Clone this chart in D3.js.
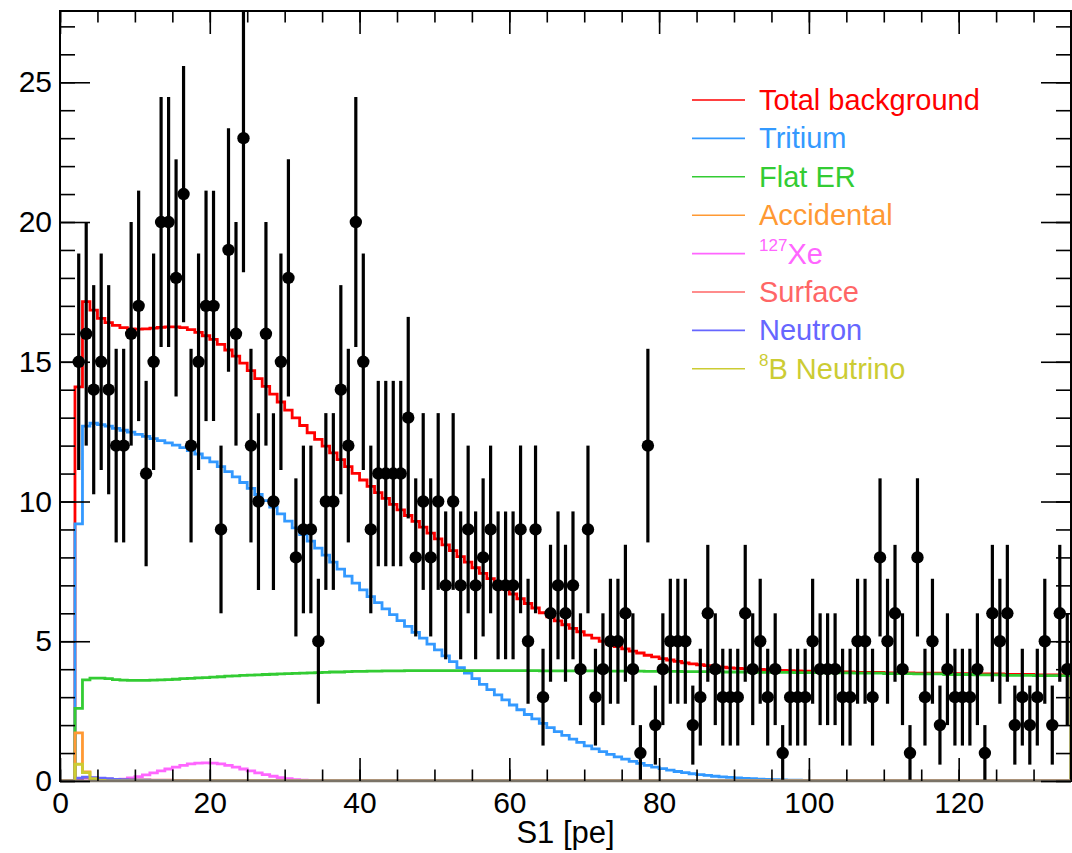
<!DOCTYPE html>
<html>
<head>
<meta charset="utf-8">
<script src="https://cdnjs.cloudflare.com/ajax/libs/d3/7.8.5/d3.min.js"></script>
<style>
  body { margin: 0; background: #fff; }
  svg { display: block; font-family: "Liberation Sans", Arial, Helvetica, sans-serif; }
</style>
</head>
<body>
<div class="chart"></div>
<script>
// data: counts per 1 pe bin, first point is the bin [2,3]
const dataFirstBin = 2;
const dataCounts = [
  15,16,14,15,14,12,12,16,17,11,
  15,20,20,18,21,12,15,17,17,9,
  19,16,23,12,10,16,10,15,18,8,
  9,9,5,10,10,14,12,20,15,9,
  11,11,11,11,13,8,10,8,10,7,
  10,7,9,7,8,9,7,7,7,9,
  5,9,3,6,7,6,7,4,9,3,
  4,5,5,6,4,1,12,2,4,5,
  5,5,2,3,6,4,3,3,3,6,
  4,5,3,4,1,3,3,3,5,4,
  4,4,3,3,5,5,3,8,5,6,
  4,1,8,3,5,2,4,3,3,3,
  4,1,6,5,6,2,3,2,3,5,
  2,6,4
];

// model histograms, 1 pe bins starting at S1 = 0
const totalBkg = [
  0,0,14.1,17.15,16.85,16.55,16.4,16.3,16.22,16.18,
  16.17,16.18,16.2,16.23,16.25,16.25,16.22,16.15,16.05,15.93,
  15.8,15.62,15.42,15.2,14.95,14.68,14.4,14.12,13.84,13.56,
  13.27,12.99,12.72,12.46,12.22,11.98,11.74,11.5,11.25,11.01,
  10.77,10.54,10.32,10.11,9.9,9.7,9.5,9.29,9.08,8.87,
  8.66,8.45,8.24,8.03,7.83,7.63,7.43,7.24,7.05,6.87,
  6.69,6.52,6.35,6.19,6.02,5.87,5.73,5.59,5.46,5.34,
  5.22,5.11,5.0,4.9,4.81,4.73,4.65,4.58,4.5,4.44,
  4.38,4.33,4.28,4.23,4.19,4.16,4.13,4.1,4.07,4.05,
  4.03,4.02,4.01,3.99,3.98,3.97,3.96,3.95,3.94,3.93,
  3.93,3.92,3.91,3.91,3.9,3.9,3.89,3.89,3.89,3.89,
  3.87,3.87,3.87,3.87,3.86,3.86,3.86,3.86,3.84,3.84,
  3.84,3.84,3.83,3.83,3.83,3.83,3.81,3.81,3.81,3.81,
  3.8,3.8,3.8,3.8,3.8
];
const tritium = [
  0,0,9.2,12.7,12.8,12.75,12.7,12.62,12.55,12.48,
  12.4,12.33,12.25,12.18,12.1,12.02,11.93,11.82,11.7,11.56,
  11.42,11.25,11.07,10.88,10.68,10.47,10.25,10.03,9.8,9.56,
  9.3,9.06,8.82,8.58,8.33,8.08,7.83,7.58,7.33,7.08,
  6.84,6.6,6.38,6.16,5.95,5.74,5.53,5.32,5.11,4.9,
  4.69,4.48,4.27,4.06,3.86,3.66,3.46,3.27,3.08,2.9,
  2.72,2.55,2.38,2.22,2.06,1.91,1.77,1.63,1.5,1.38,
  1.26,1.15,1.05,0.95,0.86,0.78,0.7,0.63,0.56,0.5,
  0.44,0.39,0.34,0.3,0.26,0.23,0.2,0.17,0.15,0.13,
  0.11,0.09,0.08,0.07,0.06,0.05,0.04,0.03,0.03,0.02,
  0.02,0.01,0.01,0.01
];
const flatER = [
  0,0,2.6,3.62,3.68,3.68,3.66,3.63,3.61,3.6,
  3.6,3.6,3.61,3.62,3.63,3.64,3.66,3.67,3.69,3.7,
  3.72,3.73,3.75,3.76,3.78,3.79,3.8,3.81,3.82,3.83,
  3.84,3.85,3.86,3.87,3.88,3.89,3.9,3.9,3.91,3.92,
  3.92,3.93,3.93,3.94,3.94,3.94,3.95,3.95,3.95,3.95,
  3.95,3.95,3.95,3.95,3.95,3.95,3.95,3.95,3.95,3.95,
  3.95,3.95,3.95,3.95,3.94,3.94,3.94,3.94,3.94,3.94,
  3.94,3.94,3.93,3.93,3.93,3.93,3.93,3.93,3.92,3.92,
  3.92,3.92,3.92,3.91,3.91,3.91,3.91,3.91,3.9,3.9,
  3.9,3.9,3.9,3.89,3.89,3.89,3.89,3.89,3.88,3.88,
  3.88,3.88,3.87,3.87,3.87,3.87,3.86,3.86,3.86,3.86,
  3.84,3.84,3.84,3.84,3.83,3.83,3.83,3.83,3.81,3.81,
  3.81,3.81,3.8,3.8,3.8,3.8,3.78,3.78,3.78,3.78,
  3.77,3.77,3.77,3.77,3.77
];
// small components: first bin, then values
const accidentalStart = 2;
const accidental = [1.72, 0.33, 0.03];
const xe127Start = 4;
const xe127 = [0.005,0.01,0.02,0.04,0.07,0.11,0.16,0.22,0.29,0.36,0.43,0.5,0.56,0.61,0.64,
  0.65,0.64,0.61,0.56,0.5,0.43,0.36,0.29,0.23,0.17,0.12,0.08,0.05,0.03,0.02,0.01];
const surfaceStart = 2;
const surface = [0.08,0.12,0.1,0.08,0.07,0.06,0.05,0.05,0.04,0.04,0.03,0.03,0.03,0.02,0.02];
const neutronStart = 2;
const neutron = [0.1,0.14,0.12,0.1,0.08,0.06,0.05,0.04,0.03,0.03,0.02,0.02,0.01];
const b8Start = 2;
const b8 = [0.6, 0.3, 0.08, 0.02];

const seriesNames = ["Total background", "Tritium", "Flat ER", "Accidental", "127Xe", "Surface", "Neutron", "8B Neutrino"];
const xMajorTicks = [0, 20, 40, 60, 80, 100, 120];
const yMajorTicks = [0, 5, 10, 15, 20, 25];

const nBins = 135;
const width = 1072, height = 853;
const plotL = 60, plotR = 1071, plotT = 11, plotB = 781;

const color = d3.scaleOrdinal()
    .domain(seriesNames)
    .range(["#ff0000", "#3399ff", "#33cc33", "#ff9933", "#ff66ff", "#ff6666", "#6666ff", "#cccc33"]);

const x = d3.scaleLinear().domain([0, nBins]).range([plotL, plotR]);
const y = d3.scaleLinear().domain([0, 27.55]).range([plotB, plotT]);

const svg = d3.select(".chart").append("svg")
    .attr("width", width)
    .attr("height", height);

svg.append("rect").attr("width", width).attr("height", height).attr("fill", "#fff");

svg.append("clipPath").attr("id", "plotclip")
  .append("rect")
    .attr("x", plotL).attr("y", plotT)
    .attr("width", plotR - plotL).attr("height", plotB - plotT);

// bin contents -> outline points, closing to zero at both ends
function histPoints(values, start) {
    let pts = [];
    for (let i = 0; i < nBins; i++) {
        let k = i - start;
        let v = (k >= 0 && k < values.length) ? values[k] : 0;
        pts.push([i, v]);
    }
    pts.push([nBins, pts[nBins - 1][1]]);
    pts.push([nBins, 0]);
    return pts;
}

const hists = [
    [totalBkg, 0], [tritium, 0], [flatER, 0], [accidental, accidentalStart],
    [xe127, xe127Start], [surface, surfaceStart], [neutron, neutronStart], [b8, b8Start]
];

const step = d3.line()
    .x(d => x(d[0]))
    .y(d => y(d[1]))
    .curve(d3.curveStepAfter);

const plot = svg.append("g").attr("clip-path", "url(#plotclip)");

hists.forEach(function(h, i) {
    plot.append("path")
        .attr("d", step(histPoints(h[0], h[1])))
        .attr("fill", "none")
        .attr("stroke", color(seriesNames[i]))
        .attr("stroke-width", 2.8)
        .attr("stroke-linejoin", "miter");
});

// data points with poisson errors
const points = dataCounts.map((c, i) => ({s1: dataFirstBin + i + 0.5, n: c}));

plot.selectAll(".err")
    .data(points)
    .enter()
    .append("line")
    .attr("class", "err")
    .attr("x1", d => x(d.s1))
    .attr("x2", d => x(d.s1))
    .attr("y1", d => y(d.n - Math.sqrt(d.n)))
    .attr("y2", d => y(d.n + Math.sqrt(d.n)))
    .attr("stroke", "#000")
    .attr("stroke-width", 3.2);

plot.selectAll(".pt")
    .data(points)
    .enter()
    .append("circle")
    .attr("class", "pt")
    .attr("cx", d => x(d.s1))
    .attr("cy", d => y(d.n))
    .attr("r", 6.2)
    .attr("fill", "#000");

// frame
svg.append("rect")
    .attr("x", plotL).attr("y", plotT)
    .attr("width", plotR - plotL).attr("height", plotB - plotT)
    .attr("fill", "none")
    .attr("stroke", "#000")
    .attr("stroke-width", 2);

svg.append("line")
    .attr("x1", plotL).attr("x2", plotR)
    .attr("y1", plotB).attr("y2", plotB)
    .attr("stroke", "#7a7367")
    .attr("stroke-width", 2.6);

function styleAxis(g) {
    g.select(".domain").remove();
    g.selectAll("line").attr("stroke", "#000").attr("stroke-width", 1.6);
    g.selectAll("text")
        .attr("fill", "#000")
        .attr("font-size", 30)
        .attr("font-family", "Liberation Sans, Arial, Helvetica, sans-serif");
}

const xMinor = d3.range(0, nBins + 1, 5);
const yMinor = d3.range(0, 28, 1);

svg.append("g").attr("transform", `translate(0,${plotB})`)
    .call(d3.axisBottom(x).tickValues(xMinor).tickSize(-11.5).tickFormat(""))
    .call(styleAxis);
svg.append("g").attr("transform", `translate(0,${plotB})`)
    .call(d3.axisBottom(x).tickValues(xMajorTicks).tickSize(-23).tickPadding(11).tickFormat(d3.format("d")))
    .call(styleAxis);
svg.append("g").attr("transform", `translate(0,${plotT})`)
    .call(d3.axisTop(x).tickValues(xMinor).tickSize(-11.5).tickFormat(""))
    .call(styleAxis);
svg.append("g").attr("transform", `translate(0,${plotT})`)
    .call(d3.axisTop(x).tickValues(xMajorTicks).tickSize(-23).tickFormat(""))
    .call(styleAxis);

svg.append("g").attr("transform", `translate(${plotL},0)`)
    .call(d3.axisLeft(y).tickValues(yMinor).tickSize(-15).tickFormat(""))
    .call(styleAxis);
svg.append("g").attr("transform", `translate(${plotL},0)`)
    .call(d3.axisLeft(y).tickValues(yMajorTicks).tickSize(-30).tickPadding(8).tickFormat(d3.format("d")))
    .call(styleAxis);
svg.append("g").attr("transform", `translate(${plotR},0)`)
    .call(d3.axisRight(y).tickValues(yMinor).tickSize(-15).tickFormat(""))
    .call(styleAxis);
svg.append("g").attr("transform", `translate(${plotR},0)`)
    .call(d3.axisRight(y).tickValues(yMajorTicks).tickSize(-30).tickFormat(""))
    .call(styleAxis);

svg.append("text")
    .attr("x", (plotL + plotR) / 2)
    .attr("y", 843)
    .attr("text-anchor", "middle")
    .attr("font-size", 31)
    .attr("fill", "#000")
    .text("S1 [pe]");

// legend
const legend = svg.append("g").attr("transform", "translate(692,110)");
seriesNames.forEach(function(name, i) {
    let row = legend.append("g").attr("transform", "translate(0," + (i * 38.4) + ")");
    row.append("line")
        .attr("x1", 0).attr("x2", 53)
        .attr("y1", -10).attr("y2", -10)
        .attr("stroke", color(name))
        .attr("stroke-width", 1.6);
    let t = row.append("text")
        .attr("x", 67)
        .attr("y", 0)
        .attr("font-size", 29)
        .attr("fill", color(name));
    let m = name.match(/^(\d+)(.*)$/);
    if (m) {
        t.append("tspan").attr("font-size", 17).attr("dy", -13).text(m[1]);
        t.append("tspan").attr("dy", 13).text(m[2]);
    } else {
        t.text(name);
    }
});
</script>
</body>
</html>
